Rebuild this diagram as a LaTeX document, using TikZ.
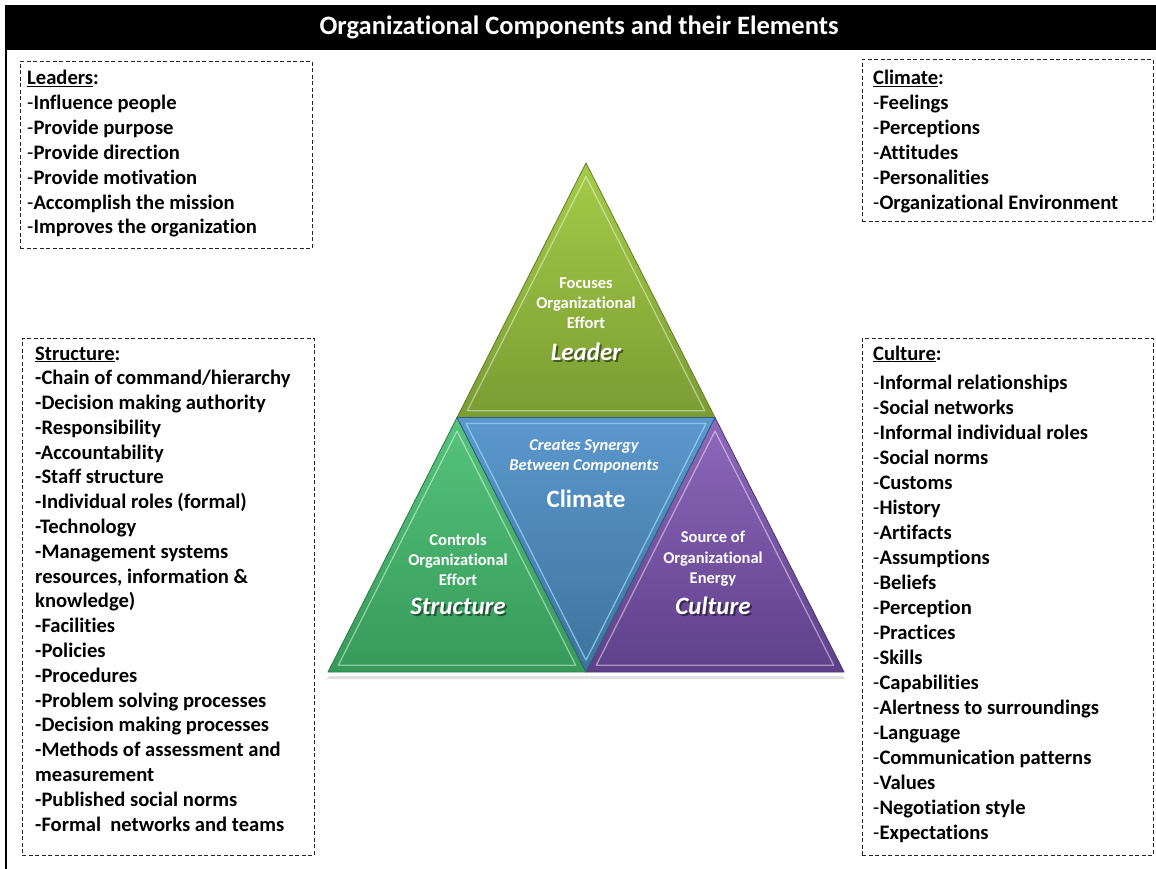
\documentclass[tikz,border=0pt]{standalone}
\usepackage{fontspec}
\setmainfont[Ligatures=NoCommon]{Carlito}
\usetikzlibrary{calc}
\definecolor{leadtop}{HTML}{A6CB48}
\definecolor{leadbot}{HTML}{7A9C33}
\definecolor{climtop}{HTML}{5C98CE}
\definecolor{climbot}{HTML}{3D739C}
\definecolor{strtop}{HTML}{55C47C}
\definecolor{strbot}{HTML}{36995A}
\definecolor{cultop}{HTML}{8F68BC}
\definecolor{culbot}{HTML}{5E408A}
\tikzset{
  dbox/.style={draw=black!85, line width=0.9pt, dash pattern=on 4pt off 2.5pt, anchor=north west, inner sep=0pt},
  ltxt/.style={anchor=base west, inner sep=0pt, font=\fontsize{20.6}{24}\selectfont\bfseries},
  ttxt/.style={anchor=base, inner sep=0pt, text=white, font=\fontsize{16.5}{20}\selectfont\bfseries},
  ttxti/.style={ttxt, font=\fontsize{16.5}{20}\selectfont\bfseries\itshape},
  bigtxt/.style={anchor=base, inner sep=0pt, text=white, font=\fontsize{25}{30}\selectfont\bfseries\itshape},
  bigshadow/.style={bigtxt, text=black, opacity=0.45},
  bevel/.style={draw=white, draw opacity=0.45, line width=1.3pt, line join=round},
  edge/.style={line width=0.8pt, line join=round},
}
\newcommand{\thindash}{{\mdseries-}}
\begin{document}
\begin{tikzpicture}[x=1pt,y=-1pt]
\useasboundingbox (0,0) rectangle (1156,869);
% title bar and frame
\node[fill=black, minimum width=1151pt, minimum height=45pt, anchor=north west, inner sep=0pt] (bar) at (5,5) {};
\node[anchor=base, inner sep=0pt, text=white, font=\fontsize{26.5}{30}\selectfont\bfseries] (title) at (579,35) {Organizational Components and their Elements};
\draw[line width=2pt] (6,49) -- (6,869);

% dashed boxes
\node[dbox, minimum width=292pt, minimum height=187pt] (leadbox) at (20,61) {};
\node[dbox, minimum width=291pt, minimum height=162pt] (climbox) at (862,59) {};
\node[dbox, minimum width=292pt, minimum height=517pt] (strbox) at (22,338) {};
\node[dbox, minimum width=291pt, minimum height=517pt] (culbox) at (862,338) {};

% Leaders list
\node[ltxt] (ld0) at (27,85) {\underline{Leaders}:};
\foreach \t [count=\i] in {Influence people,Provide purpose,Provide direction,Provide motivation,Accomplish the mission,Improves the organization}
  \node[ltxt] (ld\i) at (27,{85+24.8*\i}) {\thindash\t};

% Climate list
\node[ltxt] (cl0) at (873,85) {\underline{Climate}:};
\foreach \t [count=\i] in {Feelings,Perceptions,Attitudes,Personalities,Organizational Environment}
  \node[ltxt] (cl\i) at (873,{85+24.8*\i}) {\thindash\t};

% Structure list
\foreach \t [count=\i] in {{\underline{Structure}:},-Chain of command/hierarchy,-Decision making authority,-Responsibility,-Accountability,-Staff structure,-Individual roles (formal),-Technology,-Management systems,{resources, information \&},knowledge),-Facilities,-Policies,-Procedures,-Problem solving processes,-Decision making processes,-Methods of assessment and,measurement,-Published social norms,-Formal\ \ networks and teams}
  \node[ltxt] (st\i) at (35,{360+24.79*(\i-1)}) {\t};

% Culture list
\node[ltxt] (cu0) at (873,360) {\underline{Culture}:};
\foreach \t [count=\i] in {Informal relationships,Social networks,Informal individual roles,Social norms,Customs,History,Artifacts,Assumptions,Beliefs,Perception,Practices,Skills,Capabilities,Alertness to surroundings,Language,Communication patterns,Values,Negotiation style,Expectations}
  \node[ltxt] (cu\i) at (873,{389+25*(\i-1)}) {\thindash\t};

% triangle geometry
\coordinate (T) at (586,163);
\coordinate (L) at (328,672);
\coordinate (R) at (844,672);
\coordinate (ML) at (457,417.5);
\coordinate (MR) at (715,417.5);
\coordinate (MB) at (586,672);
\coordinate (gA) at (barycentric cs:T=1,ML=1,MR=1);
\coordinate (gB) at (barycentric cs:ML=1,MR=1,MB=1);
\coordinate (gC) at (barycentric cs:ML=1,L=1,MB=1);
\coordinate (gD) at (barycentric cs:MR=1,MB=1,R=1);

% soft shadow
\fill[black, opacity=0.12] (330,676) -- (842,676) -- (846,679) -- (326,679) -- cycle;

% Leader triangle
\shade[top color=leadtop, bottom color=leadbot] (T) -- (ML) -- (MR) -- cycle;
\draw[bevel] ($(T)!0.08!(gA)$) -- ($(ML)!0.08!(gA)$) -- ($(MR)!0.08!(gA)$) -- cycle;
\draw[edge, draw=leadbot!80!black] (T) -- (ML) -- (MR) -- cycle;
% Structure triangle
\shade[top color=strtop, bottom color=strbot] (ML) -- (L) -- (MB) -- cycle;
\draw[bevel] ($(ML)!0.08!(gC)$) -- ($(L)!0.08!(gC)$) -- ($(MB)!0.08!(gC)$) -- cycle;
\draw[edge, draw=strbot!80!black] (ML) -- (L) -- (MB) -- cycle;
% Culture triangle
\shade[top color=cultop, bottom color=culbot] (MR) -- (MB) -- (R) -- cycle;
\draw[bevel] ($(MR)!0.08!(gD)$) -- ($(MB)!0.08!(gD)$) -- ($(R)!0.08!(gD)$) -- cycle;
\draw[edge, draw=culbot!80!black] (MR) -- (MB) -- (R) -- cycle;
% Climate triangle
\shade[top color=climtop, bottom color=climbot] (ML) -- (MR) -- (MB) -- cycle;
\draw[bevel, draw=cyan!40!white, draw opacity=0.7] ($(ML)!0.07!(gB)$) -- ($(MR)!0.07!(gB)$) -- ($(MB)!0.07!(gB)$) -- cycle;
\draw[edge, draw=climbot!80!black] (ML) -- (MR) -- (MB) -- cycle;

% Leader texts
\node[ttxt] (l1) at (586,288) {Focuses};
\node[ttxt] (l2) at (586,308) {Organizational};
\node[ttxt] (l3) at (586,328) {Effort};
\node[bigshadow] (l4s) at (588,362) {Leader};
\node[bigtxt] (l4) at (586,360) {Leader};

% Climate texts
\node[ttxti] (c1) at (584,450) {Creates Synergy};
\node[ttxti] (c2) at (584,470) {Between Components};
\node[bigtxt, font=\fontsize{25}{30}\selectfont\bfseries] (c3) at (586,507) {Climate};

% Structure texts
\node[ttxt] (s1) at (458,545) {Controls};
\node[ttxt] (s2) at (458,565) {Organizational};
\node[ttxt] (s3) at (458,585) {Effort};
\node[bigshadow] (s4s) at (460,616) {Structure};
\node[bigtxt] (s4) at (458,614) {Structure};

% Culture texts
\node[ttxt] (u1) at (713,542) {Source of};
\node[ttxt] (u2) at (713,563) {Organizational};
\node[ttxt] (u3) at (713,583) {Energy};
\node[bigshadow] (u4s) at (715,616) {Culture};
\node[bigtxt] (u4) at (713,614) {Culture};
\end{tikzpicture}
\end{document}
